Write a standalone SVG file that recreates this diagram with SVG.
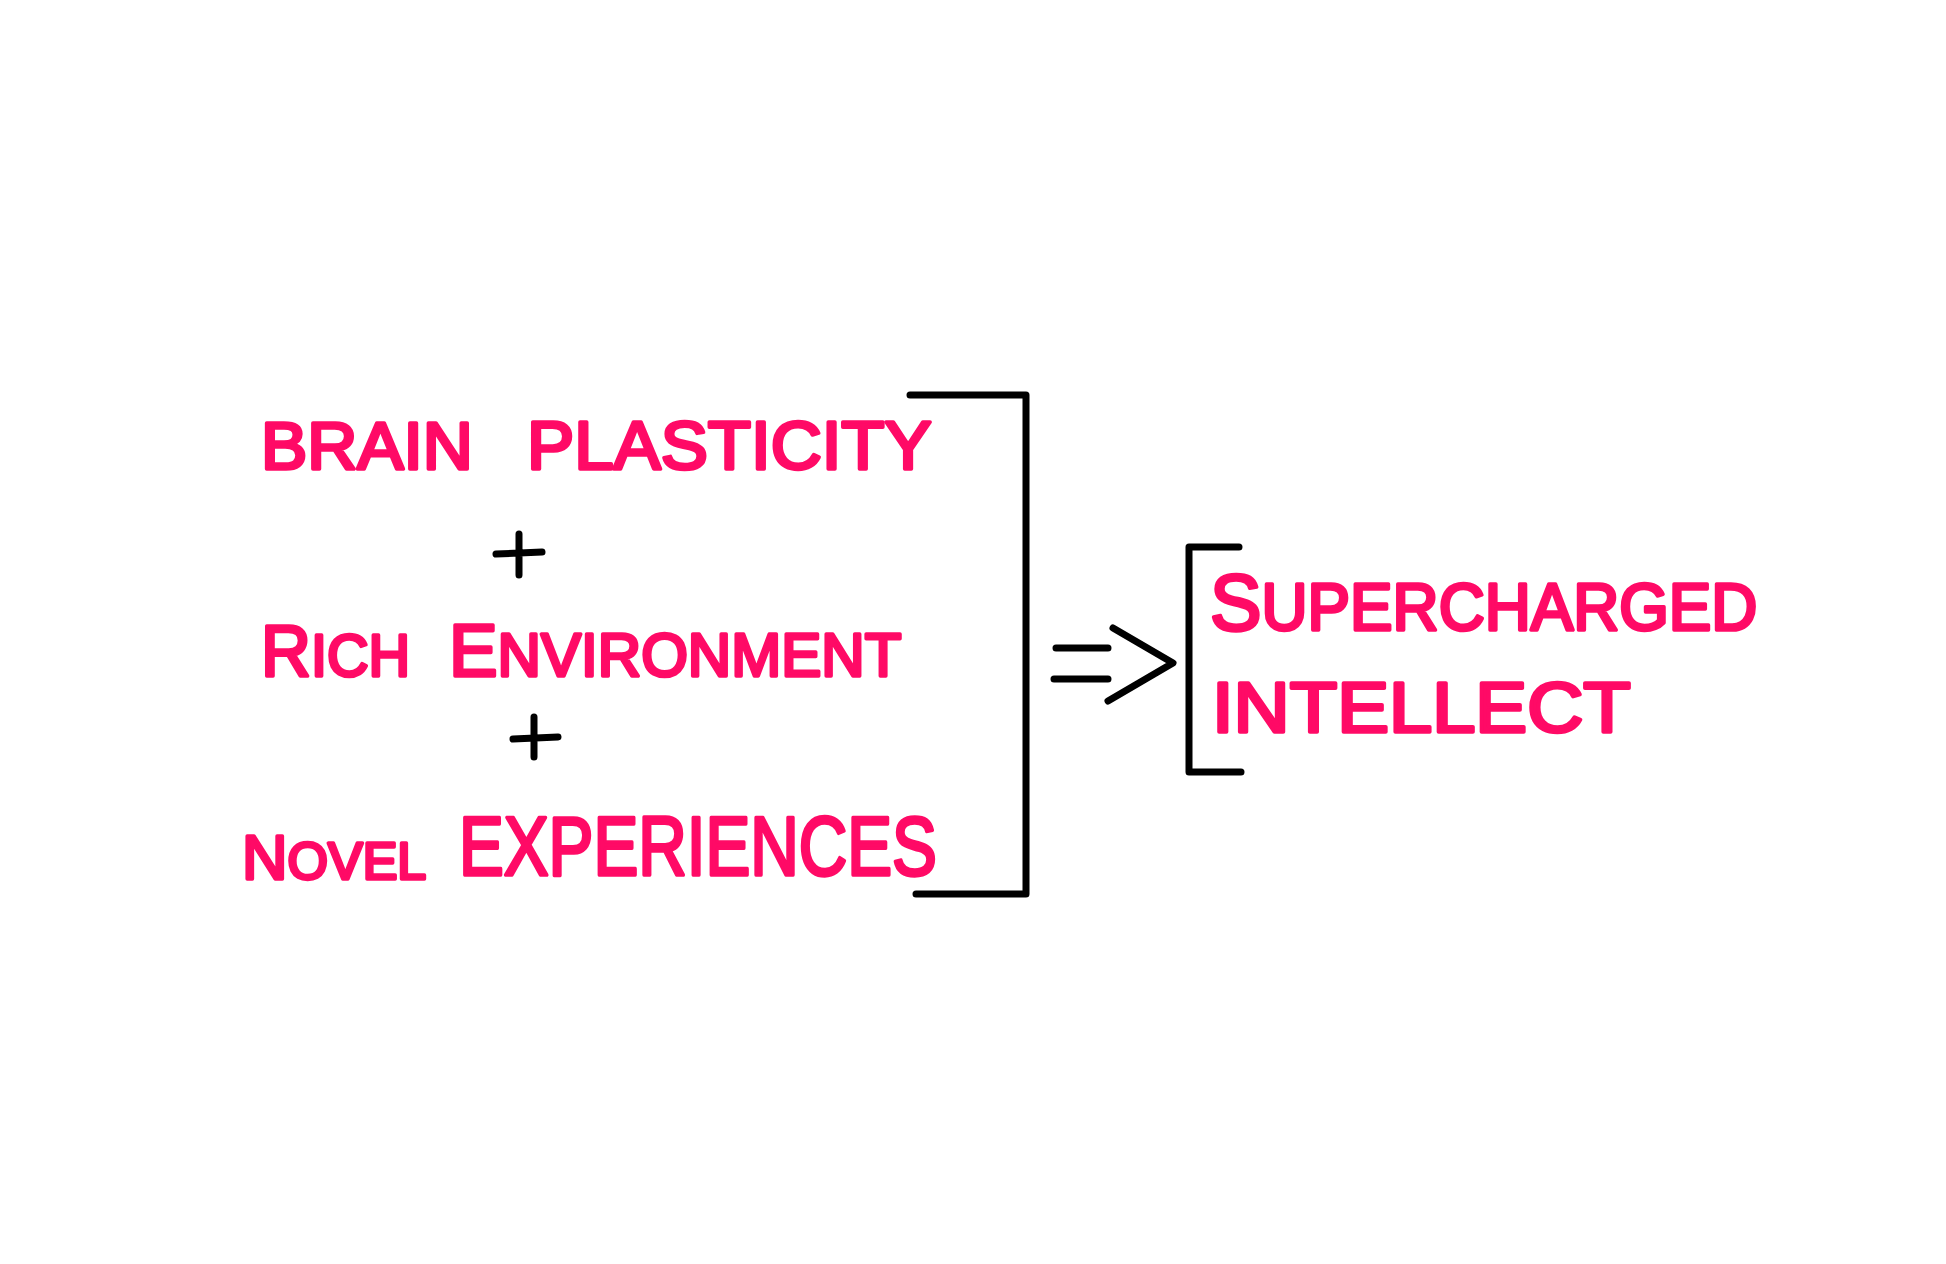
<svg xmlns="http://www.w3.org/2000/svg" width="1946" height="1264" viewBox="0 0 1946 1264">
<style>
.t{font-family:"Liberation Sans",Arial,sans-serif;font-weight:normal;fill:#ff0a66;stroke:#ff0a66;stroke-width:3.5;stroke-linejoin:round;stroke-linecap:round}
.k{fill:none;stroke:#000;stroke-width:7;stroke-linecap:round;stroke-linejoin:round}
</style>
<rect width="1946" height="1264" fill="#fff"/>
<g id="brain-plasticity">
<text class="t" transform="translate(261,469) scale(1.05,1)" font-size="66">BRAIN</text>
<text class="t" transform="translate(527,469) scale(1.04,1)" font-size="68">PLASTICITY</text>
</g>
<g id="plus-1"><path class="k" d="M496 554 L542 552 M519 534 L519 575"/></g>
<g id="rich-environment">
<text class="t" transform="translate(261,676) scale(0.96,1)"><tspan font-size="72">R</tspan><tspan font-size="60">ICH</tspan></text>
<text class="t" transform="translate(449,676) scale(0.985,1)"><tspan font-size="74">E</tspan><tspan font-size="61">NVIRONMENT</tspan></text>
</g>
<g id="plus-2"><path class="k" d="M513 739 L558 737 M534 717 L534 757"/></g>
<g id="novel-experiences">
<text class="t" transform="translate(242,879)"><tspan font-size="63">N</tspan><tspan font-size="52">OVEL</tspan></text>
<text class="t" transform="translate(459,875) scale(0.8,1)" font-size="84">EXPERIENCES</text>
</g>
<g id="connectors">
<path class="k" d="M910 395 L1026 395 L1026 894 L916 894"/>
<path class="k" d="M1056 648 L1108 648 M1054 679 L1108 679 M1113 628 L1173 663 L1108 701"/>
<path class="k" d="M1239 547 L1189 547 L1189 772 L1241 772"/>
</g>
<g id="supercharged-intellect">
<text class="t" transform="translate(1210,630) scale(0.966,1)"><tspan font-size="80">S</tspan><tspan font-size="66">UPERCHARGED</tspan></text>
<text class="t" transform="translate(1212,732) scale(1.11,1)" font-size="70">INTELLECT</text>
</g>
</svg>
